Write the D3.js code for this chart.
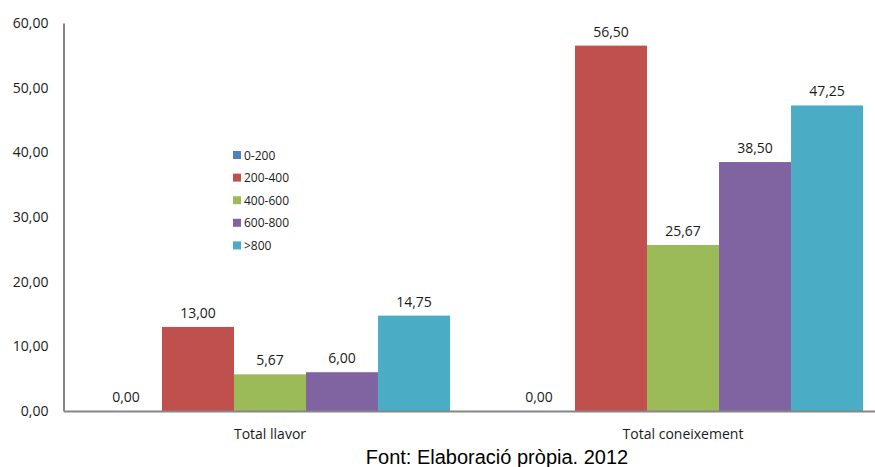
<!DOCTYPE html>
<html>
<head>
<meta charset="utf-8">
<script src="https://cdn.jsdelivr.net/npm/d3@7"></script>
<style>
  body { margin: 0; background: #fff; }
  svg { display: block; }
</style>
</head>
<body>
<svg id="chart" width="875" height="467"></svg>
<script>
// Chart data
const categories = ["Total llavor", "Total coneixement"];
const seriesNames = ["0-200", "200-400", "400-600", "600-800", ">800"];
const seriesColors = ["#4F81BD", "#C0504D", "#9BBB59", "#8064A2", "#4BACC6"];
// values[series][category]
const values = [
  [0.00, 0.00],
  [13.00, 56.50],
  [5.67, 25.67],
  [6.00, 38.50],
  [14.75, 47.25]
];
const yTicks = [0, 10, 20, 30, 40, 50, 60];
const sourceNote = "Font: Elaboració pròpia. 2012";

const svg = d3.select("#chart");
const plotLeft = 63.5, plotRight = 889.5, plotTop = 23, plotBottom = 411;
const labelFont = "'Open Sans', sans-serif";
const fmt = v => v.toFixed(2).replace(".", ",");

const y = d3.scaleLinear().domain([0, 60]).range([plotBottom, plotTop]);
const x0 = d3.scaleBand().domain(categories).range([plotLeft, plotRight])
  .paddingInner(0.128).paddingOuter(0.064);
const x1 = d3.scaleBand().domain(seriesNames).range([0, x0.bandwidth()]);

// Bars
const rows = [];
categories.forEach((c, ci) => {
  seriesNames.forEach((s, si) => {
    rows.push({ cat: c, series: s, value: values[si][ci], color: seriesColors[si] });
  });
});

svg.append("g").selectAll("rect").data(rows).join("rect")
  .attr("x", d => x0(d.cat) + x1(d.series))
  .attr("y", d => y(d.value))
  .attr("width", x1.bandwidth())
  .attr("height", d => y(0) - y(d.value))
  .attr("fill", d => d.color);

// Value labels
svg.append("g").selectAll("text").data(rows).join("text")
  .attr("x", d => x0(d.cat) + x1(d.series) + x1.bandwidth() / 2)
  .attr("y", d => y(d.value) - 9)
  .attr("text-anchor", "middle")
  .attr("font-family", labelFont)
  .attr("font-size", 14)
  .attr("fill", "#1a1a1a")
  .text(d => fmt(d.value));

// Y axis
const yAxis = d3.axisLeft(y).tickValues(yTicks).tickSize(0).tickPadding(15)
  .tickFormat(fmt);
const gy = svg.append("g").attr("transform", `translate(${plotLeft},0)`).call(yAxis);
gy.select(".domain").attr("stroke", "#868686").attr("stroke-width", 2);
gy.selectAll("text").attr("font-family", labelFont).attr("font-size", 14).attr("fill", "#1a1a1a");

// X axis
const xAxis = d3.axisBottom(x0).tickSize(0).tickPadding(18);
const gx = svg.append("g").attr("transform", `translate(0,${plotBottom})`).call(xAxis);
gx.select(".domain").attr("stroke", "#868686").attr("stroke-width", 2);
gx.selectAll("text").attr("font-family", labelFont).attr("font-size", 14).attr("fill", "#1a1a1a");

// Legend
const legend = svg.append("g").attr("transform", "translate(233,151)");
seriesNames.forEach((s, i) => {
  const g = legend.append("g").attr("transform", `translate(0,${i * 22.6})`);
  g.append("rect").attr("width", 8).attr("height", 8).attr("fill", seriesColors[i]);
  g.append("text").attr("x", 11).attr("y", 8.5)
    .attr("font-family", labelFont).attr("font-size", 12).attr("fill", "#1a1a1a")
    .text(s);
});

// Source note
svg.append("text")
  .attr("x", 497).attr("y", 464)
  .attr("text-anchor", "middle")
  .attr("font-family", "'Liberation Sans', Arial, sans-serif")
  .attr("font-size", 20)
  .attr("fill", "#000")
  .text(sourceNote);
</script>
</body>
</html>
